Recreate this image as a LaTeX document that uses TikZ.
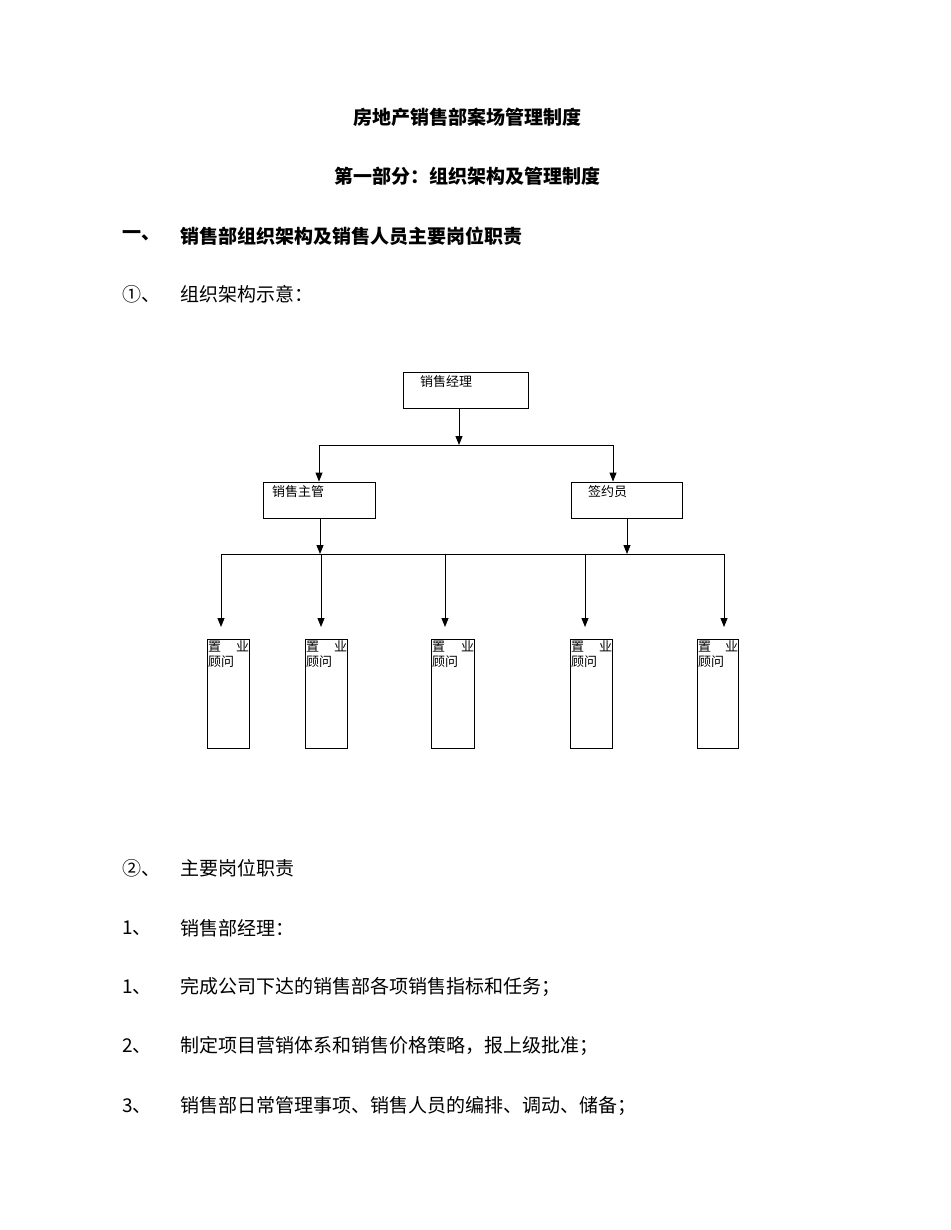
\documentclass[tikz,border=0pt]{standalone}
\usepackage{fontspec}
\setmainfont{Liberation Serif}
\newfontfamily\cjk{Noto Sans CJK SC}
\usetikzlibrary{arrows.meta}
\begin{document}
\begin{tikzpicture}[x=1pt,y=-1pt,
  txt/.style={anchor=west,inner sep=0pt,font=\cjk\fontsize{19}{19}\selectfont},
  ttl/.style={inner sep=0pt,font=\cjk\bfseries\fontsize{19}{19}\selectfont},
  box/.style={draw,line width=0.9pt,inner sep=0pt},
  lbl/.style={anchor=north west,inner sep=0pt,font=\cjk\fontsize{13}{19}\selectfont},
  arr/.style={line width=0.9pt,-{Triangle[length=9pt,width=7pt]}},
  ln/.style={line width=0.9pt}]
\useasboundingbox (0,0) rectangle (950,1230);
\node[ttl] (t1) at (467,117) {房地产销售部案场管理制度};
\node[ttl] (t2) at (467,176) {第一部分：组织架构及管理制度};
\node[ttl,anchor=west] (h1n) at (122,236) {一、};
\node[ttl,anchor=west] (h1) at (180,236) {销售部组织架构及销售人员主要岗位职责};
\node[txt] (a1n) at (122,294) {①、};
\node[txt] (a1) at (180,294) {组织架构示意：};
% chart
\node[box,minimum width=125pt,minimum height=36pt] (m) at (465.5,390) {};
\node[lbl] (mt) at (420,375) {销售经理};
\node[box,minimum width=112pt,minimum height=36pt] (s) at (319,500) {};
\node[lbl] (st) at (272,485) {销售主管};
\node[box,minimum width=111pt,minimum height=36pt] (q) at (626.5,500) {};
\node[lbl] (qt) at (588,485) {签约员};
\coordinate (j1) at (459,445);
\coordinate (j2) at (320,554);
\coordinate (j3) at (627,554);
\draw[arr] (m.south -| j1) -- (j1);
\draw[ln] (319,445) -- (613,445);
\draw[arr] (319,445) -- (s.north -| 319,0);
\draw[arr] (613,445) -- (q.north -| 613,0);
\draw[arr] (s.south -| j2) -- (j2);
\draw[arr] (q.south -| j3) -- (j3);
\draw[ln] (221,554) -- (724,554);
\foreach \x/\l/\r [count=\i] in {221/207/249,321/305/347,445/431/474,585/570/612,724/697/738}{
  \node[box,minimum width={\r-\l},minimum height=109pt] (c\i) at ({(\l+\r)/2},693.5) {};
  \draw[arr] (\x,554) -- (\x,627);
  \node[lbl,text width={\r-\l-1}] (ct\i) at (\l+1,641) {置\hfill 业\\[-4pt]顾问};
}
\begin{scope}
\clip (c3.south west) rectangle ([yshift=-12pt]c3.south east);
\node[lbl] (cx) at (432,737) {业\hspace{6pt}顾};
\end{scope}
% text
\node[txt] (b1n) at (122,868) {②、};
\node[txt] (b1) at (180,868) {主要岗位职责};
\node[txt] (b2n) at (122,928) {1、};
\node[txt] (b2) at (180,928) {销售部经理：};
\node[txt] (b3n) at (122,987) {1、};
\node[txt] (b3) at (180,987) {完成公司下达的销售部各项销售指标和任务；};
\node[txt] (b4n) at (122,1046) {2、};
\node[txt] (b4) at (180,1046) {制定项目营销体系和销售价格策略，报上级批准；};
\node[txt] (b5n) at (122,1106) {3、};
\node[txt] (b5) at (180,1106) {销售部日常管理事项、销售人员的编排、调动、储备；};
\end{tikzpicture}
\end{document}
